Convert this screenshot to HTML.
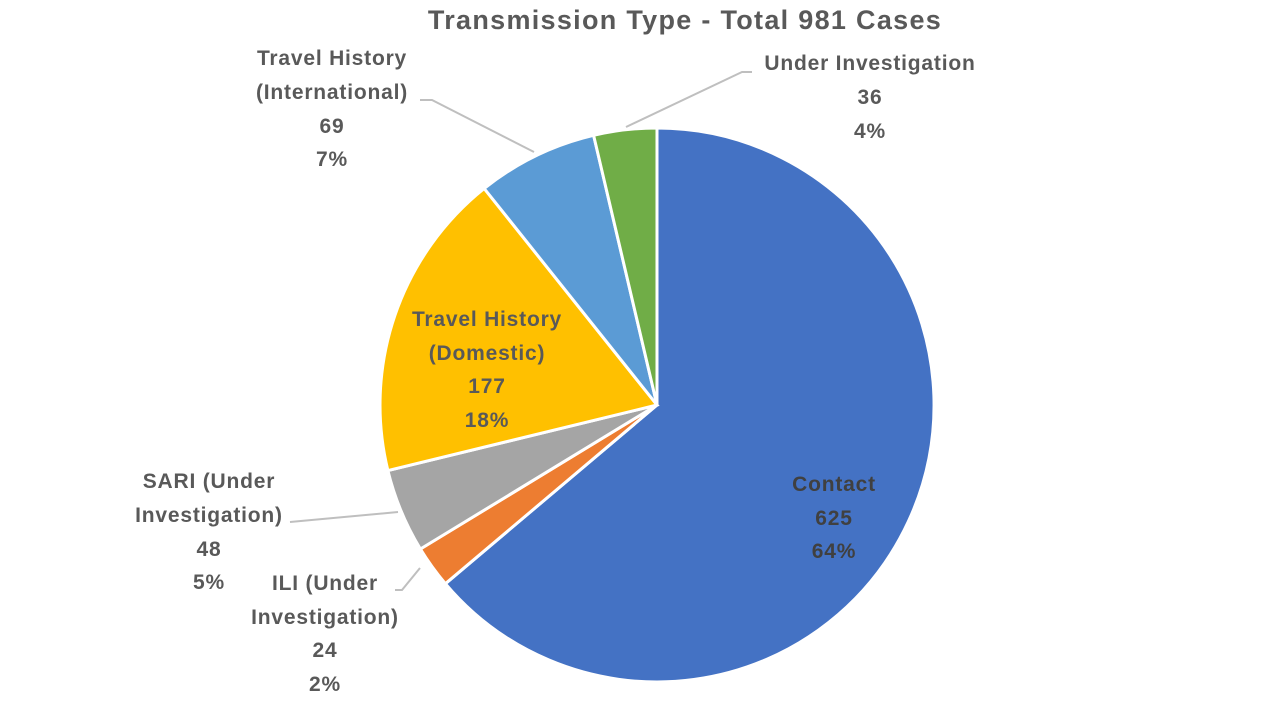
<!DOCTYPE html>
<html><head><meta charset="utf-8"><style>
body{margin:0;background:#fff;width:1280px;height:720px;overflow:hidden}
svg text{font-family:"Liberation Sans",sans-serif;font-weight:bold;fill:#595959;font-size:21px;text-anchor:middle;letter-spacing:0.8px}
</style></head><body>
<svg width="1280" height="720" viewBox="0 0 1280 720">
<text x="685" y="29" style="font-size:27px;letter-spacing:1.3px">Transmission Type - Total 981 Cases</text>
<g stroke="#fff" stroke-width="3">
<path d="M657,405 L657,128 A277,277 0 1 1 445.4,583.7 Z" fill="#4472C4"/>
<path d="M657,405 L445.4,583.7 A277,277 0 0 1 420.4,549 Z" fill="#ED7D31"/>
<path d="M657,405 L420.4,549 A277,277 0 0 1 387.9,470.6 Z" fill="#A5A5A5"/>
<path d="M657,405 L387.9,470.6 A277,277 0 0 1 484.2,188.5 Z" fill="#FFC000"/>
<path d="M657,405 L484.2,188.5 A277,277 0 0 1 593.6,135.3 Z" fill="#5B9BD5"/>
<path d="M657,405 L593.6,135.3 A277,277 0 0 1 657,128 Z" fill="#70AD47"/>
</g>
<g stroke="#BFBFBF" stroke-width="2" fill="none">
<polyline points="534,152 432,100 420,100"/>
<polyline points="626,127 742,72 752,72"/>
<polyline points="398,512 290,522"/>
<polyline points="420,568 402,590 395,590"/>
</g>
<text x="332" y="65">Travel History</text>
<text x="332" y="99">(International)</text>
<text x="332" y="133">69</text>
<text x="332" y="166">7%</text>
<text x="870" y="70">Under Investigation</text>
<text x="870" y="104">36</text>
<text x="870" y="138">4%</text>
<text x="209" y="488">SARI (Under</text>
<text x="209" y="522">Investigation)</text>
<text x="209" y="556">48</text>
<text x="209" y="589">5%</text>
<text x="325" y="590">ILI (Under</text>
<text x="325" y="624">Investigation)</text>
<text x="325" y="657">24</text>
<text x="325" y="691">2%</text>
<text x="487" y="326">Travel History</text>
<text x="487" y="360">(Domestic)</text>
<text x="487" y="393">177</text>
<text x="487" y="427">18%</text>
<text x="834" y="491" style="fill:#404040">Contact</text>
<text x="834" y="525" style="fill:#404040">625</text>
<text x="834" y="558" style="fill:#404040">64%</text>
</svg>
</body></html>
